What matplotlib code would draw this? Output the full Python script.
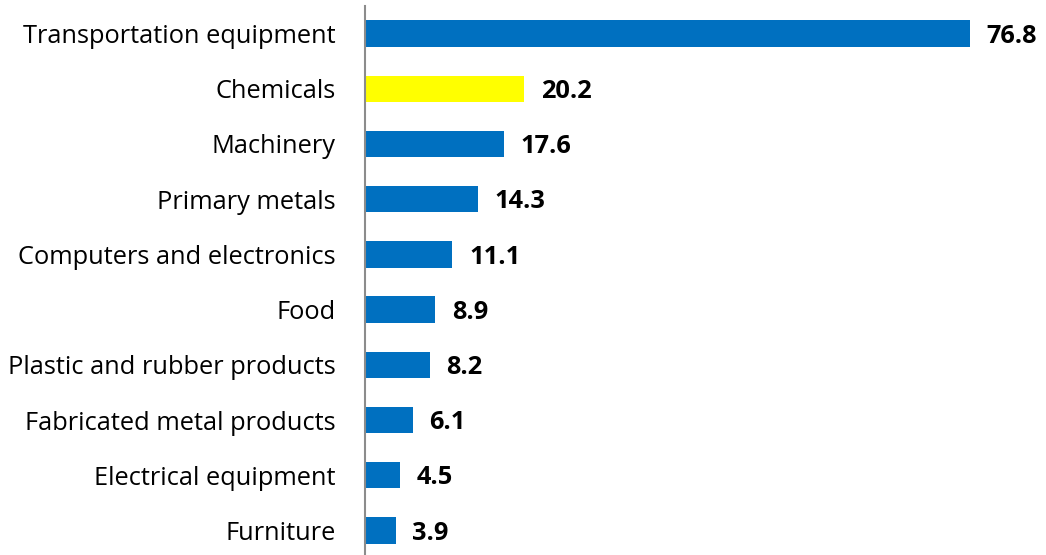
import matplotlib
matplotlib.use("Agg")
import matplotlib.pyplot as plt

categories = ["Transportation equipment", "Chemicals", "Machinery", "Primary metals",
              "Computers and electronics", "Food", "Plastic and rubber products",
              "Fabricated metal products", "Electrical equipment", "Furniture"]
values = [76.8, 20.2, 17.6, 14.3, 11.1, 8.9, 8.2, 6.1, 4.5, 3.9]
highlight = "Chemicals"

plt.rcParams['font.family'] = ['Open Sans', 'DejaVu Sans']

fig = plt.figure(figsize=(10.46, 5.55), dpi=100)
H = 555
top_px, bot_px = 6, 558
ax = fig.add_axes([365/1046, 1 - bot_px/H, 1 - 365/1046, (bot_px - top_px)/H])

colors = ["#FFFF00" if c == highlight else "#0070C0" for c in categories]
ypos = list(range(len(categories)))
ax.barh(ypos, values, height=0.48, color=colors)
ax.set_ylim(len(categories) - 0.5, -0.5)
ax.set_xlim(0, (1046 - 365) / 7.88)

for y, v in zip(ypos, values):
    ax.text(v + 2.1, y + 0.05, f"{v:.1f}", va="center", ha="left", fontsize=18.3,
            fontweight="bold", color="black")

ax.set_yticks(ypos)
ax.set_yticklabels(categories, fontsize=18.3)
ax.tick_params(axis="y", length=0, pad=21)
ax.set_xticks([])
for s in ["top", "right", "bottom"]:
    ax.spines[s].set_visible(False)
ax.spines["left"].set_color("#8c8c8c")
ax.spines["left"].set_linewidth(1.5)

fig.savefig("out.png", dpi=100)
